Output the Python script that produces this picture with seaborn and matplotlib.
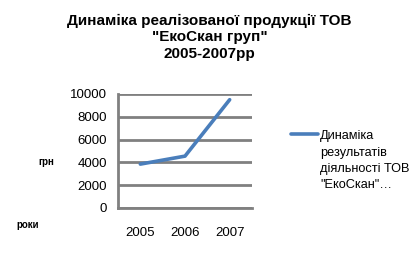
import matplotlib
matplotlib.use("Agg")
import matplotlib.pyplot as plt
import seaborn as sns
import pandas as pd

years = ["2005", "2006", "2007"]
values = [3850, 4550, 9500]
series_name = "Динаміка\nрезультатів\nдіяльності ТОВ\n\"ЕкоСкан\"…"
title = "Динаміка реалізованої продукції ТОВ\n\"ЕкоСкан груп\"\n2005-2007рр"
y_ticks = [0, 2000, 4000, 6000, 8000, 10000]

sns.set_theme(style="white")
plt.rcParams['font.family'] = ['Liberation Sans', 'DejaVu Sans']
plt.rcParams['text.color'] = 'black'
plt.rcParams['xtick.color'] = 'black'
plt.rcParams['ytick.color'] = 'black'

df = pd.DataFrame({"year": years, "value": values, "series": series_name})

fig = plt.figure(figsize=(4.19, 2.58), dpi=100)
ax = fig.add_axes([118/419, 1-208/258, (252-118)/419, (208-94)/258])

sns.lineplot(data=df, x="year", y="value", hue="series", palette=["#4a7ebb"],
             linewidth=2.6, ax=ax, sort=False)

ax.set_xlim(-0.5, 2.5)
ax.set_ylim(0, 10000)
ax.set_yticks(y_ticks)
ax.set_yticklabels([str(v) for v in y_ticks])
ax.grid(axis="y", color="#808080", linewidth=2)
ax.set_axisbelow(True)
for s in ["top", "right"]:
    ax.spines[s].set_visible(False)
for s in ["left", "bottom"]:
    ax.spines[s].set_color("#808080")
    ax.spines[s].set_linewidth(2)
ax.tick_params(axis="both", length=0, labelsize=9.5, colors="black", pad=8)
ax.tick_params(axis="x", pad=14)
ax.set_xlabel("")
ax.set_ylabel("")

fig.suptitle(title, x=0.5, y=0.945, fontsize=11, fontweight="bold",
             linespacing=1.2, va="top", color="black")

leg = ax.legend(loc="upper left", bbox_to_anchor=(1.25, 0.725), frameon=False,
                fontsize=9.2, handlelength=2.15, handletextpad=0.15, borderaxespad=0)
for t in leg.get_texts():
    t.set_linespacing(1.47)
    t.set_color("black")
shift = 19.5
for line in leg.get_lines():
    line.set_linewidth(2.6)
    yd = line.get_ydata()
    line.set_ydata([y + shift for y in yd])

fig.text(46/419, 1-162/258, "грн", fontsize=7, fontweight="bold", ha="center", va="center")
fig.text(28/419, 1-225/258, "роки", fontsize=7, fontweight="bold", ha="center", va="center")

fig.savefig("out.png", dpi=100)
